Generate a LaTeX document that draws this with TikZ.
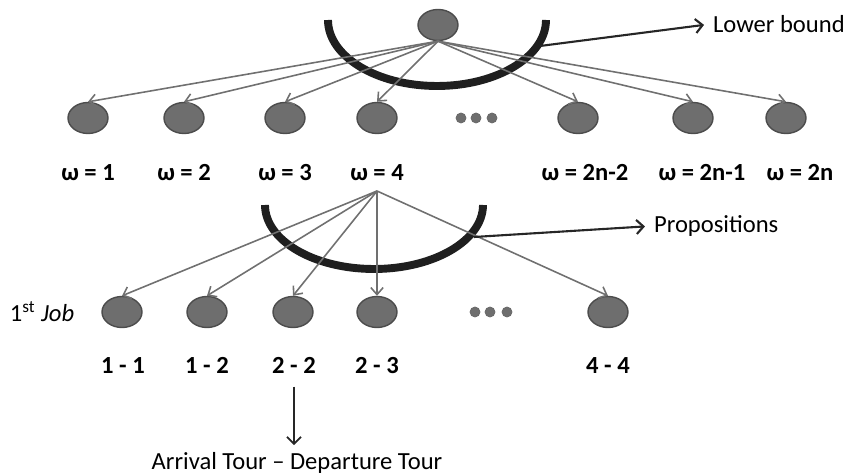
\documentclass[tikz,border=0pt]{standalone}
\usepackage{fontspec}
\setmainfont{Carlito}
\usetikzlibrary{shapes.geometric,arrows.meta}
\definecolor{nodegray}{HTML}{6E6E6E}
\definecolor{linegray}{HTML}{707070}
\tikzset{
  state/.style = {ellipse, fill=nodegray, draw=black!70, line width=0.8pt,
                  minimum width=0.8cm, minimum height=0.62cm, inner sep=0pt},
  dot/.style = {circle, fill=nodegray, draw=black!60, minimum size=#1,
                inner sep=0pt, outer sep=0pt},
  dot/.default = 0.2cm,
  edge/.style = {draw=linegray, line width=0.9pt,
                 -{Straight Barb[length=4pt,width=7pt]}},
  bound/.style = {draw=black!88, line width=4.5pt},
  note/.style = {draw=black!85, line width=1.2pt, shorten >=4pt,
                 -{Straight Barb[length=4pt,width=8pt]}},
  lab/.style = {font=\fontsize{14}{16}\selectfont\bfseries, inner sep=1pt, anchor=base},
  txt/.style = {font=\fontsize{14}{16}\selectfont, inner sep=1pt}
}

\begin{document}
\begin{tikzpicture}[x=0.02cm,y=-0.02cm]
	\def \ra{118} % row 1
	\def \rb{312} % row 2
	\def \la{181} % labels row 1 (baseline)
	\def \lb{374} % labels row 2 (baseline)
	\useasboundingbox (0,0) rectangle (845,475);

	% Lower bound
	\draw[bound] (328,20) arc[start angle=180, end angle=0, x radius=109, y radius=66];
	\node[state] (root) at (438,25) {};

	\node[state] (w1) at (88,\ra) {};
	\node[state] (w2) at (184,\ra) {};
	\node[state] (w3) at (285,\ra) {};
	\node[state] (w4) at (377,\ra) {};
	\node[dot] (d1) at (461,\ra) {};
	\node[dot] (d2) at (476,\ra) {};
	\node[dot] (d3) at (492,\ra) {};
	\node[state] (w2n2) at (578,\ra) {};
	\node[state] (w2n1) at (693,\ra) {};
	\node[state] (w2n) at (786,\ra) {};

	\foreach \n in {w1,w2,w3,w4,w2n2,w2n1,w2n}
		\draw[edge] (root.south) -- (\n.north);

	\node[lab] (lw1) at (88,\la) {ω = 1};
	\node[lab] (lw2) at (184,\la) {ω = 2};
	\node[lab] (lw3) at (285,\la) {ω = 3};
	\node[lab] (lw4) at (377,\la) {ω = 4};
	\node[lab] (lw2n2) at (585,\la) {ω = 2n-2};
	\node[lab] (lw2n1) at (702,\la) {ω = 2n-1};
	\node[lab] (lw2n) at (800,\la) {ω = 2n};

	\coordinate (lbstart) at (540,46);
	\node[txt, anchor=west] (lower) at (711,24) {Lower bound};
	\draw[note] (lbstart) -- (lower.west);

	% Propositions
	\draw[bound] (265,205) arc[start angle=180, end angle=0, x radius=109, y radius=64];

	\node[state] (j11) at (122,\rb) {};
	\node[state] (j12) at (207,\rb) {};
	\node[state] (j22) at (293,\rb) {};
	\node[state] (j23) at (377,\rb) {};
	\node[dot] (e1) at (475,\rb) {};
	\node[dot] (e2) at (490,\rb) {};
	\node[dot] (e3) at (507,\rb) {};
	\node[state] (j44) at (608,\rb) {};

	\coordinate (fan) at (377,191);
	\foreach \n in {j11,j12,j22,j23,j44}
		\draw[edge] (fan) -- (\n.north);

	\coordinate (prstart) at (474,237);
	\node[txt, anchor=west] (prop) at (652,226) {Propositions};
	\draw[note] (prstart) -- (prop.west);

	\node[txt] (job) at (42,\rb) {1\textsuperscript{st} \textit{Job}};

	\node[lab] (l11) at (123,\lb) {1 - 1};
	\node[lab] (l12) at (207,\lb) {1 - 2};
	\node[lab] (l22) at (294,\lb) {2 - 2};
	\node[lab] (l23) at (377,\lb) {2 - 3};
	\node[lab] (l44) at (608,\lb) {4 - 4};

	% Tours
	\node[txt] (tour) at (297,463) {Arrival Tour -- Departure Tour};
	\draw[note, line width=1pt, shorten <=6pt, shorten >=3pt] (l22.south) -- (l22.south |- tour.north);

\end{tikzpicture}
\end{document}
